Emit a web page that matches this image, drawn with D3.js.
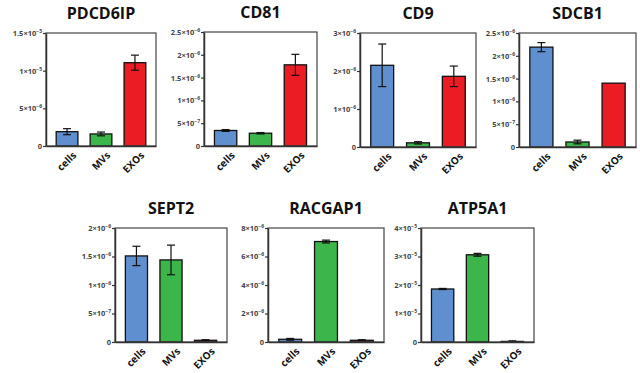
<!DOCTYPE html>
<html>
<head>
<meta charset="utf-8">
<script src="https://cdn.jsdelivr.net/npm/d3@7"></script>
<style>
  body { margin: 0; background: #fff; }
  text { font-family: "Open Sans", "Liberation Sans", sans-serif; }
</style>
</head>
<body>
<div id="chart"></div>
<script>
// data
const genes = ["PDCD6IP", "CD81", "CD9", "SDCB1", "SEPT2", "RACGAP1", "ATP5A1"];
const groups = ["cells", "MVs", "EXOs"];
const means = [
    [1.9e-6, 1.6e-6, 1.106e-5],
    [3.4e-7, 2.8e-7, 1.78e-6],
    [2.15e-6, 1.1e-7, 1.86e-6],
    [2.19e-6, 1.1e-7, 1.40e-6],
    [1.51e-6, 1.44e-6, 3e-8],
    [1.9e-7, 7.05e-6, 1.2e-7],
    [1.86e-5, 3.06e-5, 2e-7]
];
const errors = [
    [0.4e-6, 0.25e-6, 1.0e-6],
    [0.2e-7, 0.15e-7, 0.23e-6],
    [0.56e-6, 0.03e-6, 0.27e-6],
    [0.1e-6, 0.04e-6, 0],
    [0.17e-6, 0.26e-6, 1e-8],
    [0.6e-7, 0.1e-6, 0.4e-7],
    [0.2e-6, 0.5e-6, 0.2e-6]
];
const yMax = [1.5e-5, 2.5e-6, 3e-6, 2.5e-6, 2e-6, 8e-6, 4e-5];
const yTicks = [
    [0, 5e-6, 1e-5, 1.5e-5],
    [0, 5e-7, 1e-6, 1.5e-6, 2e-6, 2.5e-6],
    [0, 1e-6, 2e-6, 3e-6],
    [0, 5e-7, 1e-6, 1.5e-6, 2e-6, 2.5e-6],
    [0, 5e-7, 1e-6, 1.5e-6, 2e-6],
    [0, 2e-6, 4e-6, 6e-6, 8e-6],
    [0, 1e-5, 2e-5, 3e-5, 4e-5]
];
const colors = ["#5f8fcf", "#3cb54a", "#ec1c24"];

// panel boxes (left, top, right, bottom)
const boxes = [
    [46, 33, 156, 146],
    [204, 32, 317, 146],
    [360, 33, 476, 147],
    [519, 33, 636, 147],
    [115, 228, 227, 342],
    [268, 228, 384, 342],
    [421, 228, 534, 342]
];

var svg = d3.select("#chart").append("svg").attr("width", 640).attr("height", 373);

function sciParts(v) {
    if (v === 0) return null;
    let e = Math.floor(Math.log10(v) + 1e-9);
    let m = +(v / Math.pow(10, e)).toFixed(2);
    return [m, e];
}

genes.forEach(function (gene, i) {
    let b = boxes[i];
    let x = d3.scaleBand().domain(groups).range([b[0], b[2]]).paddingInner(0.36).paddingOuter(0.3);
    let y = d3.scaleLinear().domain([0, yMax[i]]).range([b[3], b[1]]);
    let g = svg.append("g");

    // title
    g.append("text")
        .attr("x", (b[0] + b[2]) / 2)
        .attr("y", b[1] - 14)
        .attr("text-anchor", "middle")
        .attr("font-size", 16)
        .attr("font-weight", "bold")
        .attr("fill", "#111")
        .text(gene);

    // bars
    let rows = groups.map((k, j) => ({ k: k, m: means[i][j], e: errors[i][j], c: colors[j] }));
    g.selectAll("rect.bar")
        .data(rows)
        .enter()
        .append("rect")
        .attr("class", "bar")
        .attr("x", d => x(d.k))
        .attr("width", x.bandwidth())
        .attr("y", d => y(d.m))
        .attr("height", d => y(0) - y(d.m))
        .attr("fill", d => d.c)
        .attr("stroke", "#111")
        .attr("stroke-width", 1.3);

    // error bars
    let eb = g.selectAll("g.err").data(rows.filter(d => d.e > 0)).enter().append("g")
        .attr("stroke", "#111").attr("stroke-width", 1.2);
    eb.append("line")
        .attr("x1", d => x(d.k) + x.bandwidth() / 2)
        .attr("x2", d => x(d.k) + x.bandwidth() / 2)
        .attr("y1", d => y(d.m + d.e))
        .attr("y2", d => y(Math.max(0, d.m - d.e)));
    [1, -1].forEach(function (s) {
        eb.append("line")
            .attr("x1", d => x(d.k) + x.bandwidth() / 2 - 4)
            .attr("x2", d => x(d.k) + x.bandwidth() / 2 + 4)
            .attr("y1", d => y(d.m + s * d.e))
            .attr("y2", d => y(d.m + s * d.e));
    });

    // frame
    g.append("rect")
        .attr("x", b[0]).attr("y", b[1])
        .attr("width", b[2] - b[0]).attr("height", b[3] - b[1])
        .attr("fill", "none")
        .attr("stroke", "#444")
        .attr("stroke-width", 1.2);

    // y axis
    let yAxis = g.append("g")
        .attr("transform", "translate(" + b[0] + ",0)")
        .call(d3.axisLeft(y).tickValues(yTicks[i]).tickSize(3).tickSizeOuter(0).tickFormat(""));
    yAxis.select(".domain").attr("stroke", "#333").attr("stroke-width", 1.5);
    yAxis.selectAll(".tick line").attr("stroke", "#333").attr("stroke-width", 1.2);
    yAxis.selectAll(".tick").each(function (v) {
        let t = d3.select(this).append("text")
            .attr("x", -4)
            .attr("dy", "0.32em")
            .attr("text-anchor", "end")
            .attr("font-size", 7.5)
            .attr("font-weight", "bold")
            .attr("fill", "#444");
        let p = sciParts(v);
        if (!p) { t.text("0"); return; }
        t.append("tspan").text(p[0] + "\u00d710");
        t.append("tspan").attr("dy", -3).attr("font-size", 5).text("\u2212" + Math.abs(p[1]));
    });

    // x axis line
    let xAxis = g.append("g")
        .attr("transform", "translate(0," + b[3] + ")")
        .call(d3.axisBottom(x).tickSize(0).tickSizeOuter(0).tickFormat(""));
    xAxis.select(".domain").attr("stroke", "#333").attr("stroke-width", 1.5);

    // slanted category labels
    g.selectAll("text.cat")
        .data(groups)
        .enter()
        .append("text")
        .attr("class", "cat")
        .attr("transform", d => "translate(" + (x(d) + x.bandwidth() / 2 + 5) + "," + (b[3] + 5) + ") rotate(-45)")
        .attr("text-anchor", "end")
        .attr("dy", "0.7em")
        .attr("font-size", 10)
        .attr("font-weight", "bold")
        .attr("fill", "#111")
        .text(d => d);
});
</script>
</body>
</html>
